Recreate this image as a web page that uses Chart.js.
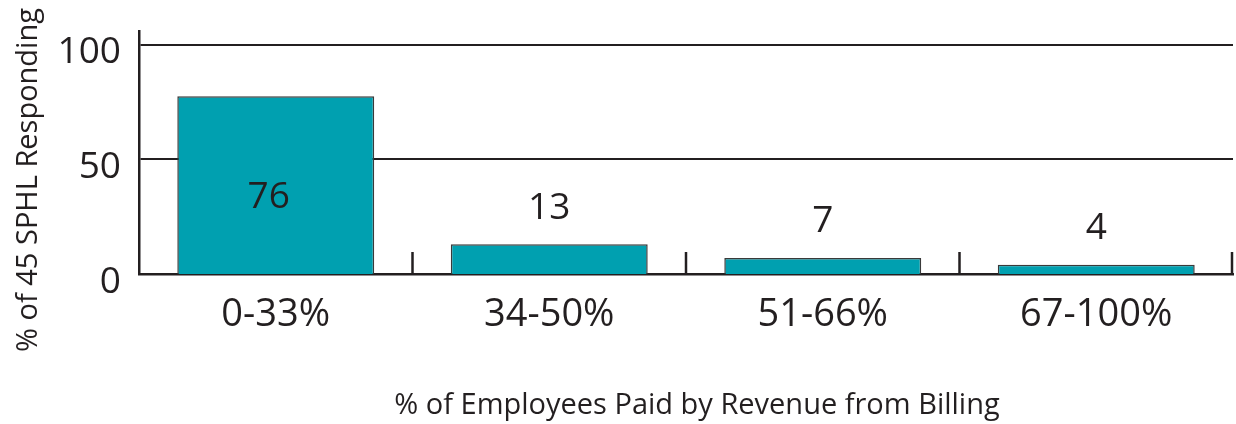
<!DOCTYPE html>
<html>
<head>
<meta charset="utf-8">
<script src="https://cdn.jsdelivr.net/npm/chart.js@4"></script>
<style>
  html, body { margin: 0; padding: 0; background: #fff; }
  #billing { display: block; }
</style>
</head>
<body>
<canvas id="billing" width="1236" height="424"></canvas>
<script>
var categories = ['0-33%', '34-50%', '51-66%', '67-100%'];
var barValues = [77.5, 13, 7, 4];
var labelText = ['76', '13', '7', '4'];
var yTicks = [0, 50, 100];
var xTitle = '% of Employees Paid by Revenue from Billing';
var yTitle = '% of 45 SPHL Responding';

var ink = '#231f20';
var teal = '#00a0b0';
var fontFamily = '"Open Sans", sans-serif';

// tick marks between categories, pointing up into the plot
var innerTicks = {
    id: 'innerTicks',
    afterDraw: function (chart) {
        var ctx = chart.ctx, x = chart.scales.x, area = chart.chartArea;
        ctx.save();
        ctx.strokeStyle = ink;
        ctx.lineWidth = 2.5;
        for (var i = 1; i <= categories.length; i++) {
            var px = i < categories.length
                ? (x.getPixelForValue(i - 1) + x.getPixelForValue(i)) / 2
                : area.right - 1;
            ctx.beginPath();
            ctx.moveTo(px, area.bottom);
            ctx.lineTo(px, area.bottom - 22);
            ctx.stroke();
        }
        ctx.restore();
    }
};

var barLabels = {
    id: 'barLabels',
    afterDatasetsDraw: function (chart) {
        var ctx = chart.ctx, meta = chart.getDatasetMeta(0);
        ctx.save();
        ctx.fillStyle = ink;
        ctx.font = '37px ' + fontFamily;
        ctx.textAlign = 'center';
        ctx.textBaseline = 'middle';
        meta.data.forEach(function (bar, i) {
            var y, x = bar.x;
            if (barValues[i] > 50) {
                y = bar.base - (bar.base - bar.y) * 0.43;
                x = bar.x - 7;
            } else {
                y = bar.y - 36;
            }
            ctx.fillText(labelText[i], x, y);
        });
        ctx.restore();
    }
};

var axisTitles = {
    id: 'axisTitles',
    afterDraw: function (chart) {
        var ctx = chart.ctx;
        ctx.save();
        ctx.fillStyle = ink;
        ctx.font = '29px ' + fontFamily;
        ctx.textAlign = 'center';
        ctx.textBaseline = 'middle';
        ctx.fillText(xTitle, 697, 406);
        ctx.translate(29, 180);
        ctx.rotate(-Math.PI / 2);
        ctx.fillText(yTitle, 0, 0);
        ctx.restore();
    }
};

var ctx = document.getElementById('billing').getContext('2d');
var chart = new Chart(ctx, {
    type: 'bar',
    data: {
        labels: categories,
        datasets: [{
            data: barValues,
            backgroundColor: teal,
            borderColor: '#3a3a3a',
            borderWidth: 1.5,
            barPercentage: 0.72,
            categoryPercentage: 1
        }]
    },
    options: {
        responsive: false,
        animation: { duration: 0 },
        layout: { padding: { top: 31, right: 3, left: 0, bottom: 0 } },
        plugins: {
            legend: { display: false },
            tooltip: { enabled: false }
        },
        scales: {
            x: {
                grid: { display: false, drawTicks: false },
                border: { color: ink, width: 2.5 },
                ticks: {
                    color: ink,
                    font: { family: fontFamily, size: 38 },
                    padding: 18
                },
                afterFit: function (scale) { scale.height = 150; }
            },
            y: {
                min: 0,
                max: 106,
                afterBuildTicks: function (scale) {
                    scale.ticks = yTicks.map(function (v) { return { value: v }; });
                },
                grid: {
                    color: ink,
                    lineWidth: function (c) { return c.tick && c.tick.value === 0 ? 0 : 2; },
                    drawTicks: false
                },
                border: { color: ink, width: 2.5 },
                ticks: {
                    color: ink,
                    font: { family: fontFamily, size: 37, lineHeight: 0.6 },
                    padding: 18,
                    labelOffset: 8
                },
                afterFit: function (scale) { scale.width = 139; }
            }
        }
    },
    plugins: [innerTicks, barLabels, axisTitles]
});
</script>
</body>
</html>
